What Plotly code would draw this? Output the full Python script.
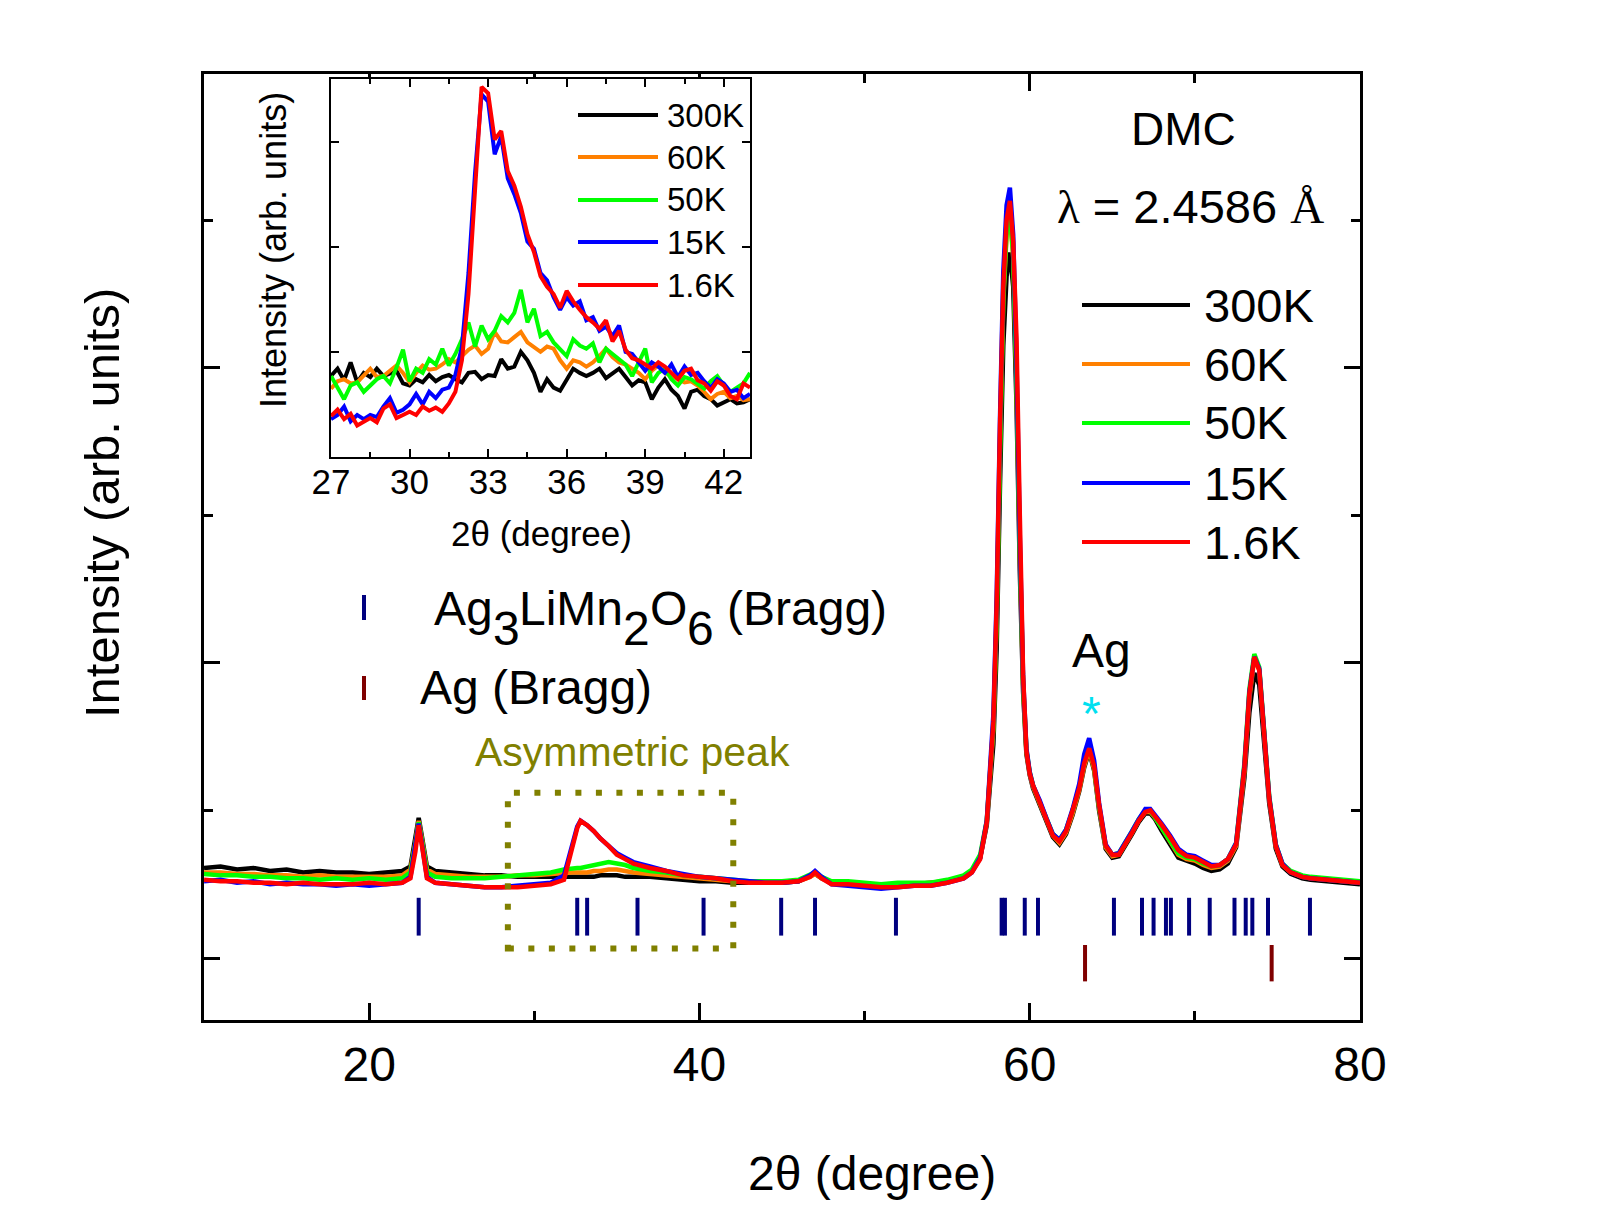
import plotly.graph_objects as go

# ---------------- data ----------------
temps = ["300K", "60K", "50K", "15K", "1.6K"]
colors = ["#000000", "#FF8000", "#00FF00", "#0000FF", "#FF0000"]

two_theta = [10, 11, 12, 13, 14, 15, 16, 17, 18, 19,
             20, 21, 22, 22.5, 22.8,
             23.0, 23.2, 23.5, 24,
             25, 26, 27, 28, 29, 30, 31,
             31.8, 32.3, 32.6, 32.8, 33.2, 33.6, 34, 34.5, 35,
             35.5, 36, 37, 38, 39, 40, 41, 42, 43, 44,
             45, 46, 46.7, 47.0, 47.4, 48,
             49, 50, 51, 52, 53, 54, 55, 56, 56.5,
             57, 57.4, 57.8, 58.0, 58.2, 58.4, 58.6, 58.8, 59.0, 59.2, 59.4, 59.6, 59.8, 60.0, 60.2,
             60.6, 61.0, 61.4, 61.8, 62.2, 62.6, 63.0, 63.3, 63.6, 63.9, 64.2, 64.6, 65.0,
             65.4, 65.8, 66.2, 66.6, 67.0, 67.3, 67.6, 68.0, 68.5, 69.0,
             69.5, 70.0, 70.5, 71.0, 71.5, 72.0, 72.5, 73.0, 73.3, 73.6,
             73.9, 74.2, 74.5, 74.9, 75.3, 75.8, 76.5, 77, 78, 79, 80]

I_300K = [0.61, 0.62, 0.60, 0.61, 0.59, 0.60, 0.58, 0.59, 0.58, 0.58,
          0.57, 0.58, 0.59, 0.62, 0.80,
          0.95, 0.82, 0.62, 0.59,
          0.58, 0.57, 0.56, 0.56, 0.55, 0.55, 0.55,
          0.55, 0.55, 0.55, 0.55, 0.55, 0.55, 0.56, 0.56, 0.56,
          0.55, 0.55, 0.55, 0.54, 0.53, 0.52, 0.52, 0.51, 0.51, 0.51,
          0.51, 0.52, 0.55, 0.57, 0.54, 0.51,
          0.51, 0.49, 0.49, 0.50, 0.50, 0.51, 0.52, 0.55, 0.59,
          0.68, 0.90, 1.45, 2.10, 3.20, 4.15, 4.62, 4.78, 4.55, 3.75, 2.62, 1.80, 1.38, 1.24, 1.15,
          1.04, 0.93, 0.82, 0.77, 0.84, 0.97, 1.13, 1.29, 1.40, 1.27, 1.00, 0.74, 0.68,
          0.69, 0.76, 0.84, 0.92, 0.98, 0.98, 0.94, 0.86, 0.77, 0.68,
          0.66, 0.64, 0.61, 0.59, 0.60, 0.64, 0.75, 1.22, 1.66, 1.93,
          1.85, 1.45, 1.05, 0.74, 0.62, 0.57, 0.54, 0.53, 0.52, 0.51, 0.50]

I_60K = [0.58, 0.58, 0.57, 0.57, 0.56, 0.56, 0.55, 0.56, 0.55, 0.55,
         0.55, 0.55, 0.56, 0.60, 0.78,
         0.93, 0.80, 0.60, 0.57,
         0.56, 0.55, 0.55, 0.55, 0.56, 0.56, 0.57,
         0.58, 0.58, 0.58, 0.58, 0.58, 0.59, 0.59, 0.60, 0.60,
         0.59, 0.58, 0.57, 0.56, 0.55, 0.54, 0.53, 0.52, 0.52, 0.51,
         0.52, 0.52, 0.55, 0.57, 0.54, 0.51,
         0.51, 0.50, 0.50, 0.50, 0.50, 0.51, 0.52, 0.55, 0.59,
         0.68, 0.92, 1.55, 2.30, 3.50, 4.45, 4.90, 5.02, 4.75, 3.90, 2.75, 1.85, 1.40, 1.25, 1.16,
         1.05, 0.94, 0.83, 0.78, 0.85, 0.98, 1.14, 1.30, 1.41, 1.28, 1.02, 0.75, 0.69,
         0.70, 0.77, 0.85, 0.93, 0.99, 0.99, 0.95, 0.88, 0.79, 0.70,
         0.67, 0.66, 0.63, 0.61, 0.62, 0.66, 0.76, 1.26, 1.76, 2.03,
         1.95, 1.52, 1.08, 0.76, 0.63, 0.58, 0.55, 0.54, 0.53, 0.52, 0.51]

I_50K = [0.57, 0.56, 0.56, 0.55, 0.55, 0.54, 0.54, 0.53, 0.54, 0.53,
         0.54, 0.53, 0.54, 0.58, 0.77,
         0.92, 0.79, 0.58, 0.55,
         0.54, 0.54, 0.54, 0.55, 0.56, 0.57, 0.58,
         0.60, 0.61, 0.61, 0.61, 0.62, 0.63, 0.64, 0.65, 0.64,
         0.63, 0.61, 0.59, 0.58, 0.56, 0.55, 0.54, 0.53, 0.52, 0.52,
         0.52, 0.53, 0.56, 0.58, 0.55, 0.52,
         0.52, 0.51, 0.50, 0.51, 0.51, 0.51, 0.53, 0.56, 0.60,
         0.70, 0.93, 1.58, 2.32, 3.52, 4.48, 4.92, 5.05, 4.77, 3.92, 2.77, 1.86, 1.41, 1.26, 1.17,
         1.06, 0.95, 0.84, 0.80, 0.87, 1.00, 1.16, 1.33, 1.44, 1.30, 1.03, 0.76, 0.70,
         0.71, 0.78, 0.86, 0.94, 1.00, 1.00, 0.95, 0.88, 0.79, 0.71,
         0.68, 0.67, 0.64, 0.62, 0.63, 0.67, 0.78, 1.32, 1.82, 2.06,
         1.97, 1.54, 1.10, 0.77, 0.64, 0.59, 0.56, 0.55, 0.54, 0.53, 0.52]

I_15K = [0.52, 0.53, 0.51, 0.52, 0.50, 0.51, 0.50, 0.50, 0.49, 0.50,
         0.49, 0.50, 0.51, 0.55, 0.74,
         0.91, 0.77, 0.55, 0.51,
         0.50, 0.49, 0.48, 0.48, 0.49, 0.50, 0.51,
         0.56, 0.76, 0.89, 0.93, 0.90, 0.86, 0.81, 0.76, 0.71,
         0.68, 0.65, 0.62, 0.59, 0.57, 0.55, 0.54, 0.53, 0.52, 0.51,
         0.51, 0.52, 0.56, 0.59, 0.55, 0.50,
         0.49, 0.48, 0.47, 0.48, 0.49, 0.49, 0.51, 0.54, 0.58,
         0.68, 0.93, 1.65, 2.45, 3.65, 4.65, 5.10, 5.22, 4.90, 4.05, 2.85, 1.90, 1.42, 1.26, 1.17,
         1.07, 0.95, 0.84, 0.80, 0.87, 1.01, 1.18, 1.38, 1.49, 1.34, 1.05, 0.77, 0.70,
         0.71, 0.78, 0.86, 0.94, 1.01, 1.01, 0.97, 0.91, 0.83, 0.74,
         0.70, 0.69, 0.66, 0.63, 0.63, 0.67, 0.78, 1.30, 1.80, 2.04,
         1.96, 1.52, 1.09, 0.77, 0.64, 0.58, 0.55, 0.54, 0.53, 0.52, 0.51]

I_1p6K = [0.53, 0.52, 0.52, 0.51, 0.51, 0.50, 0.51, 0.50, 0.50, 0.50,
          0.51, 0.50, 0.51, 0.54, 0.72,
          0.90, 0.76, 0.54, 0.51,
          0.50, 0.49, 0.48, 0.48, 0.48, 0.49, 0.50,
          0.53, 0.75, 0.88, 0.93, 0.90, 0.86, 0.81, 0.76, 0.70,
          0.67, 0.64, 0.61, 0.59, 0.56, 0.55, 0.54, 0.52, 0.51, 0.51,
          0.51, 0.52, 0.55, 0.58, 0.54, 0.50,
          0.50, 0.49, 0.48, 0.48, 0.49, 0.49, 0.51, 0.54, 0.58,
          0.67, 0.92, 1.60, 2.40, 3.60, 4.55, 5.00, 5.13, 4.85, 4.20, 3.00, 1.92, 1.40, 1.25, 1.17,
          1.06, 0.94, 0.83, 0.79, 0.86, 1.00, 1.15, 1.32, 1.42, 1.30, 1.04, 0.76, 0.70,
          0.70, 0.77, 0.85, 0.93, 0.99, 1.00, 0.96, 0.90, 0.82, 0.73,
          0.69, 0.68, 0.65, 0.62, 0.63, 0.67, 0.77, 1.29, 1.79, 2.04,
          1.95, 1.52, 1.08, 0.76, 0.63, 0.58, 0.55, 0.54, 0.53, 0.52, 0.51]

main_series = [I_300K, I_60K, I_50K, I_15K, I_1p6K]

# inset (zoom of the asymmetric peak)
inset_two_theta = [27.00, 27.25, 27.50, 27.75, 28.00, 28.25, 28.50, 28.75,
                   29.00, 29.25, 29.50, 29.75, 30.00, 30.25, 30.50, 30.75,
                   31.00, 31.25, 31.50, 31.75, 32.00, 32.25, 32.50, 32.75,
                   33.00, 33.25, 33.50, 33.75, 34.00, 34.25, 34.50, 34.75,
                   35.00, 35.25, 35.50, 35.75, 36.00, 36.25, 36.50, 36.75,
                   37.00, 37.25, 37.50, 37.75, 38.00, 38.25, 38.50, 38.75,
                   39.00, 39.25, 39.50, 39.75, 40.00, 40.25, 40.50, 40.75,
                   41.00, 41.25, 41.50, 41.75, 42.00, 42.25, 42.50, 42.75, 43.00]

inset_300K = [0.77, 0.84, 0.73, 0.90, 0.71, 0.80, 0.76, 0.84,
              0.77, 0.79, 0.82, 0.70, 0.68, 0.74, 0.71, 0.78,
              0.72, 0.76, 0.78, 0.74, 0.71, 0.80, 0.81, 0.74,
              0.78, 0.77, 0.93, 0.84, 0.86, 1.00, 0.92, 0.80,
              0.62, 0.74, 0.66, 0.63, 0.74, 0.84, 0.80, 0.77,
              0.80, 0.84, 0.75, 0.79, 0.84, 0.76, 0.68, 0.73,
              0.71, 0.55, 0.66, 0.74, 0.64, 0.58, 0.46, 0.62,
              0.64, 0.58, 0.55, 0.49, 0.52, 0.55, 0.51, 0.52, 0.55]

inset_60K = [0.65, 0.72, 0.74, 0.70, 0.71, 0.78, 0.84, 0.76,
             0.77, 0.82, 0.87, 0.80, 0.71, 0.80, 0.87, 0.83,
             0.84, 0.88, 0.93, 0.90, 0.96, 1.02, 1.06, 0.98,
             1.03, 1.19, 1.10, 1.09, 1.14, 1.19, 1.09, 1.05,
             1.00, 1.05, 1.03, 0.92, 0.84, 0.92, 0.90, 0.86,
             0.90, 0.96, 1.03, 0.95, 0.90, 0.88, 0.84, 0.80,
             0.74, 0.82, 0.87, 0.80, 0.77, 0.74, 0.71, 0.72,
             0.68, 0.62, 0.55, 0.60, 0.62, 0.56, 0.58, 0.54, 0.55]

inset_50K = [0.77, 0.65, 0.55, 0.68, 0.71, 0.62, 0.68, 0.74,
             0.77, 0.70, 0.85, 1.02, 0.72, 0.84, 0.80, 0.93,
             0.88, 1.03, 0.87, 0.98, 1.12, 1.28, 1.05, 1.25,
             1.12, 1.20, 1.34, 1.28, 1.37, 1.59, 1.28, 1.41,
             1.15, 1.19, 1.09, 1.02, 0.96, 1.12, 1.06, 1.03,
             1.08, 0.90, 1.03, 0.98, 0.93, 0.88, 0.77, 0.90,
             1.03, 0.71, 0.80, 0.84, 0.74, 0.68, 0.76, 0.74,
             0.70, 0.65, 0.72, 0.77, 0.68, 0.62, 0.66, 0.70, 0.80]

inset_15K = [0.36, 0.40, 0.48, 0.34, 0.40, 0.36, 0.40, 0.38,
             0.48, 0.56, 0.42, 0.45, 0.50, 0.60, 0.50, 0.62,
             0.56, 0.64, 0.66, 0.78, 1.05, 1.75, 2.70, 3.45,
             3.38, 2.88, 3.05, 2.65, 2.50, 2.32, 2.05, 1.98,
             1.75, 1.68, 1.52, 1.40, 1.52, 1.44, 1.48, 1.30,
             1.33, 1.20, 1.24, 1.15, 1.25, 1.00, 0.98, 0.90,
             0.82, 0.90, 0.86, 0.80, 0.88, 0.76, 0.86, 0.78,
             0.80, 0.72, 0.66, 0.74, 0.70, 0.62, 0.64, 0.56, 0.60]

inset_1p6K = [0.39, 0.45, 0.36, 0.41, 0.30, 0.34, 0.37, 0.33,
              0.46, 0.50, 0.37, 0.40, 0.43, 0.40, 0.48, 0.44,
              0.47, 0.43, 0.51, 0.62, 0.92, 1.55, 2.50, 3.52,
              3.46, 3.02, 3.10, 2.72, 2.58, 2.38, 2.12, 1.95,
              1.72, 1.62, 1.55, 1.42, 1.58, 1.48, 1.40, 1.33,
              1.28, 1.22, 1.30, 1.10, 1.20, 1.02, 0.94, 0.92,
              0.88, 0.84, 0.90, 0.86, 0.80, 0.74, 0.82, 0.84,
              0.73, 0.70, 0.63, 0.72, 0.68, 0.58, 0.55, 0.70, 0.66]

inset_series = [inset_300K, inset_60K, inset_50K, inset_15K, inset_1p6K]

# Bragg reflection positions (2theta, degree)
bragg_Ag3LiMn2O6 = [23.0, 32.6, 33.2, 36.25, 40.25, 44.95, 47.0, 51.9,
                    58.3, 58.5, 59.7, 60.5, 65.1, 66.8, 67.5, 68.25, 68.55,
                    69.65, 70.9, 72.4, 73.08, 73.48, 74.43, 76.97]
bragg_Ag = [63.35, 74.65]

for s in main_series:
    assert len(s) == len(two_theta)
for s in inset_series:
    assert len(s) == len(inset_two_theta)

# ---------------- styling / layout ----------------
FONT = "Liberation Sans, Arial, sans-serif"
NAVY = "#00007F"
DARKRED = "#7F0000"
OLIVE = "#808000"
CYAN = "#00E0F0"

W, H = 1600, 1225
ML, MR, MT, MB = 204, 240, 74, 205
PW, PH = W - ML - MR, H - MT - MB


def px(x):
    return (x - ML) / PW


def py(y):
    return (H - MB - y) / PH


fig = go.Figure()

for name, ys, c in zip(temps, main_series, colors):
    fig.add_trace(go.Scatter(x=two_theta, y=ys, mode="lines", name=name,
                             line=dict(color=c, width=4.5),
                             xaxis="x", yaxis="y", showlegend=False))

fig.add_trace(go.Scatter(x=bragg_Ag3LiMn2O6, y=[0.28] * len(bragg_Ag3LiMn2O6),
                         mode="markers", showlegend=False,
                         marker=dict(symbol="line-ns", size=27, color=NAVY,
                                     line=dict(width=4, color=NAVY))))
fig.add_trace(go.Scatter(x=bragg_Ag, y=[-0.035] * len(bragg_Ag),
                         mode="markers", showlegend=False,
                         marker=dict(symbol="line-ns", size=26, color=DARKRED,
                                     line=dict(width=4, color=DARKRED))))

for name, ys, c in zip(temps, inset_series, colors):
    fig.add_trace(go.Scatter(x=inset_two_theta, y=ys, mode="lines", name=name,
                             line=dict(color=c, width=4),
                             xaxis="x2", yaxis="y2", showlegend=False))

shapes = []
annotations = []

# dotted box around the asymmetric peak
shapes.append(dict(type="rect", xref="x", yref="y", x0=28.4, x1=42.05, y0=0.065, y1=1.12,
                   line=dict(color=OLIVE, width=6, dash="6px,14.5px")))

# main legend
main_leg_y = [305, 364, 423, 483, 542]
for lab, c, yy in zip(temps, colors, main_leg_y):
    shapes.append(dict(type="line", xref="paper", yref="paper",
                       x0=px(1082), x1=px(1190), y0=py(yy), y1=py(yy),
                       line=dict(color=c, width=4)))
    annotations.append(dict(text=lab, xref="paper", yref="paper", x=px(1202), y=py(yy),
                            xanchor="left", yanchor="middle", showarrow=False,
                            font=dict(size=47, color="black", family=FONT)))

# inset legend
inset_leg_y = [115, 157, 200, 242, 285]
for lab, c, yy in zip(temps, colors, inset_leg_y):
    shapes.append(dict(type="line", xref="paper", yref="paper",
                       x0=px(578), x1=px(658), y0=py(yy), y1=py(yy),
                       line=dict(color=c, width=4)))
    annotations.append(dict(text=lab, xref="paper", yref="paper", x=px(665), y=py(yy),
                            xanchor="left", yanchor="middle", showarrow=False,
                            font=dict(size=33, color="black", family=FONT)))

# Bragg legend symbols
shapes.append(dict(type="line", xref="paper", yref="paper", x0=px(364), x1=px(364),
                   y0=py(595), y1=py(620), line=dict(color=NAVY, width=4)))
shapes.append(dict(type="line", xref="paper", yref="paper", x0=px(364), x1=px(364),
                   y0=py(676), y1=py(700), line=dict(color=DARKRED, width=4)))


def ann(text, x, y, size, color="black", xanchor="center", yanchor="middle",
        angle=0, family=FONT, xshift=0, yshift=0):
    annotations.append(dict(text=text, xref="paper", yref="paper", x=px(x), y=py(y),
                            xanchor=xanchor, yanchor=yanchor, showarrow=False,
                            textangle=angle, xshift=xshift, yshift=yshift,
                            font=dict(size=size, color=color, family=family)))


# formula label with full-size lowered subscripts
FS = 48
pieces = [("Ag", 0, 1.223), ("3", 1, 0.556), ("LiMn", 0, 2.167), ("2", 1, 0.556),
          ("O", 0, 0.778), ("6", 1, 0.556), ("(Bragg)", 0, 3.334)]
off = 0.0
for t, sub, wem in pieces:
    if t.startswith("("):
        off += 0.278 * FS
    ann(t, 432, 608 + (20 if sub else 0), FS, xanchor="left", xshift=off)
    off += wem * FS

ann("Ag (Bragg)", 418, 687, 48, xanchor="left")
ann("Asymmetric peak", 632, 752, 41, color=OLIVE)
ann("Ag", 1101, 650, 48)
ann("*", 1091, 713, 48, color=CYAN)
ann("DMC", 1183, 129, 46)
ann('<span style="font-family:Liberation Serif">λ</span> = 2.4586 '
    '<span style="font-family:Liberation Serif">Å</span>', 1190, 206, 47)

# axis titles
ann("2θ (degree)", 872, 1173, 48)
ann("Intensity (arb. units)", 102, 503, 49, angle=-90)
ann("2θ (degree)", 541, 533, 35)
ann("Intensity (arb. units)", 273, 250, 36, angle=-90)

axis_common = dict(showgrid=False, zeroline=False, showline=True, linecolor="black",
                   ticks="inside", tickcolor="black", mirror="ticks")

fig.update_layout(
    width=W, height=H,
    margin=dict(l=ML, r=MR, t=MT, b=MB, pad=0),
    paper_bgcolor="white", plot_bgcolor="white",
    font=dict(family=FONT, color="black"),
    showlegend=False,
    xaxis=dict(axis_common, domain=[0, 1], range=[10, 80], anchor="y",
               tick0=0, dtick=20, ticklen=17, tickwidth=3, linewidth=3,
               tickfont=dict(size=48, family=FONT, color="black"),
               minor=dict(ticks="inside", tick0=0, dtick=10, ticklen=9, tickwidth=3,
                          tickcolor="black", showgrid=False)),
    yaxis=dict(axis_common, domain=[0, 1], range=[-0.42, 5.99], anchor="x",
               tick0=0, dtick=2, ticklen=16, tickwidth=3, linewidth=3,
               showticklabels=False,
               minor=dict(ticks="inside", tick0=0, dtick=1, ticklen=9, tickwidth=3,
                          tickcolor="black", showgrid=False)),
    xaxis2=dict(axis_common, domain=[px(331), px(750)], range=[27, 43], anchor="y2",
                tick0=27, dtick=3, ticklen=8, tickwidth=2, linewidth=2,
                ticklabelstandoff=-7,
                tickfont=dict(size=35, family=FONT, color="black"),
                minor=dict(ticks="inside", tick0=27, dtick=1.5, ticklen=5, tickwidth=2,
                           tickcolor="black", showgrid=False)),
    yaxis2=dict(axis_common, domain=[py(457), py(78.5)], range=[0, 3.6], anchor="x2",
                tick0=0, dtick=1, ticklen=8, tickwidth=2, linewidth=2,
                showticklabels=False),
    shapes=shapes,
    annotations=annotations,
)

fig.write_html("out.html")
